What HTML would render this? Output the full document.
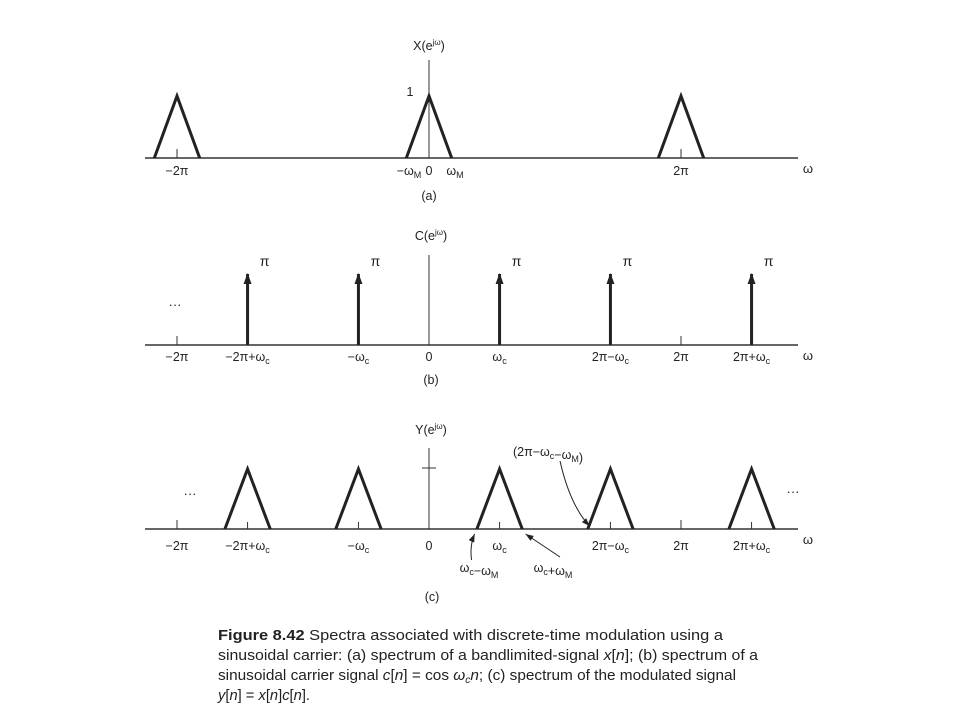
<!DOCTYPE html>
<html><head><meta charset="utf-8"><style>
html,body{margin:0;padding:0;background:#fff;}
svg{display:block;font-family:"Liberation Sans",sans-serif;}
</style></head><body>
<svg id="fig" width="960" height="720" viewBox="0 0 960 720" xmlns="http://www.w3.org/2000/svg">
<defs><marker id="ah" markerWidth="12" markerHeight="10" refX="10" refY="4" orient="auto" markerUnits="userSpaceOnUse"><path d="M0,0 L11,4 L0,8 Z" fill="#222"/></marker>
<marker id="sah" markerWidth="9" markerHeight="7" refX="8" refY="3" orient="auto" markerUnits="userSpaceOnUse"><path d="M0,0 L8,3 L0,6 Z" fill="#222"/></marker></defs>
<g id="pa"></g>
<g id="pb"></g>
<g id="pc"></g>
<g font-size="15" fill="#222">
<text x="218" y="640" textLength="505" lengthAdjust="spacingAndGlyphs"><tspan font-weight="bold">Figure 8.42</tspan>    Spectra associated with discrete-time modulation using a</text>
<text x="218" y="660" textLength="540" lengthAdjust="spacingAndGlyphs">sinusoidal carrier: (a) spectrum of a bandlimited-signal <tspan font-style="italic">x</tspan>[<tspan font-style="italic">n</tspan>]; (b) spectrum of a</text>
<text x="218" y="680" textLength="518" lengthAdjust="spacingAndGlyphs">sinusoidal carrier signal <tspan font-style="italic">c</tspan>[<tspan font-style="italic">n</tspan>] = cos <tspan font-style="italic">ω<tspan font-size="10" dy="3">c</tspan><tspan dy="-3">n</tspan></tspan>; (c) spectrum of the modulated signal</text>
<text x="218" y="700" textLength="92" lengthAdjust="spacingAndGlyphs"><tspan font-style="italic">y</tspan>[<tspan font-style="italic">n</tspan>] = <tspan font-style="italic">x</tspan>[<tspan font-style="italic">n</tspan>]<tspan font-style="italic">c</tspan>[<tspan font-style="italic">n</tspan>].</text>
</g>
</svg>
<script>
// data (centers in multiples of pi)
const aCenters = [-2, 0, 2];
const aHeights = [1, 1, 1];
const wM = 0.18;
const wc = 0.56;
const bImpulseCenters = [-2 + wc, -wc, wc, 2 - wc, 2 + wc];
const bImpulseHeights = [1, 1, 1, 1, 1];
const cCenters = [-2 + wc, -wc, wc, 2 - wc, 2 + wc];
const cHeights = [1, 1, 1, 1, 1];

const NS = "http://www.w3.org/2000/svg";
const x0 = 429, pxPerPi = 126;
function xs(w){ return x0 + w * pxPerPi; }
function el(parent, tag, attrs, text){
  const e = document.createElementNS(NS, tag);
  for (const k in attrs) e.setAttribute(k, attrs[k]);
  if (text !== undefined) e.textContent = text;
  parent.appendChild(e); return e;
}
function label(g, x, y, html, name, size){
  const t = el(g, "text", {x:x, y:y, "text-anchor":"middle", "font-size":size||12.5, fill:"#222"});
  t.innerHTML = html;
  
  
  return t;
}
function axis(g, y, yTop){
  const a = el(g, "line", {x1:145, y1:y, x2:798, y2:y, stroke:"#333", "stroke-width":1.5});
  
  
  const v = el(g, "line", {x1:x0, y1:yTop, x2:x0, y2:y, stroke:"#333", "stroke-width":1});
  
  
  label(g, 808, y + 15, "ω", "omega-label", 13);
}
function tri(g, c, h, yBase, amp, name){
  const xc = xs(c), hw = wM * pxPerPi;
  const p = el(g, "polyline", {points:`${xc-hw},${yBase} ${xc},${yBase-h*amp} ${xc+hw},${yBase}`, fill:"none", stroke:"#222", "stroke-width":3});
  
  
}
function tick(g, w, yBase, len){
  const t = el(g, "line", {x1:xs(w), y1:yBase, x2:xs(w), y2:yBase-len, stroke:"#333", "stroke-width":1});
  
  
}
const sub = s => `<tspan font-size="9" dy="3">${s}</tspan><tspan dy="-3"></tspan>`;

// Panel A
const A = document.getElementById("pa"), ya = 158;
axis(A, ya, 60);
aCenters.forEach((c,i)=>{ tri(A, c, aHeights[i], ya, 62, "triangle-a-"+i); if(c!==0) tick(A, c, ya, 9); });
label(A, x0, 50, "X(e<tspan font-size='8' dy='-5'>jω</tspan><tspan dy='5'>)</tspan>", "y-axis-title-a");
label(A, 410, 96, "1", "peak-value-label");
label(A, xs(-2), 175, "−2π", "tick-label-neg-2pi");
label(A, 409, 175, "−ω"+sub("M"), "tick-label-neg-wm");
label(A, x0, 175, "0", "tick-label-zero");
label(A, 455, 175, "ω"+sub("M"), "tick-label-wm");
label(A, xs(2), 175, "2π", "tick-label-2pi");
label(A, x0, 200, "(a)", "panel-a-label");

// Panel B
const B = document.getElementById("pb"), yb = 345;
axis(B, yb, 255);
bImpulseCenters.forEach((c,i)=>{
  const x = xs(c);
  const l = el(B, "line", {x1:x, y1:yb, x2:x, y2:yb-bImpulseHeights[i]*71, stroke:"#222", "stroke-width":3, "marker-end":"url(#ah)"});
  
  
  label(B, x+17, 266, "π", "impulse-value-"+i, 14);
});
tick(B, -2, yb, 9); tick(B, 2, yb, 9);
label(B, x0+2, 240, "C(e<tspan font-size='8' dy='-5'>jω</tspan><tspan dy='5'>)</tspan>", "y-axis-title-b");
label(B, 175, 309, "···", "ellipsis-b", 13);
const bl = [[-2,"−2π"],[-2+wc,"−2π+ω"+sub("c")],[-wc,"−ω"+sub("c")],[0,"0"],[wc,"ω"+sub("c")],[2-wc,"2π−ω"+sub("c")],[2,"2π"],[2+wc,"2π+ω"+sub("c")]];
bl.forEach((d,i)=>label(B, xs(d[0]), 361, d[1], "tick-label-b-"+i));
label(B, x0+2, 384, "(b)", "panel-b-label");

// Panel C
const C = document.getElementById("pc"), yc = 529;
axis(C, yc, 448);
const hm = el(C, "line", {x1:x0-7, y1:468, x2:x0+7, y2:468, stroke:"#333", "stroke-width":1});
 
cCenters.forEach((c,i)=>{ tri(C, c, cHeights[i], yc, 60, "triangle-c-"+i); tick(C, c, yc, 7); });
tick(C, -2, yc, 9); tick(C, 2, yc, 9);
label(C, x0+2, 434, "Y(e<tspan font-size='8' dy='-5'>jω</tspan><tspan dy='5'>)</tspan>", "y-axis-title-c");
label(C, 190, 498, "···", "ellipsis-c-left", 13);
label(C, 793, 496, "···", "ellipsis-c-right", 13);
bl.forEach((d,i)=>label(C, xs(d[0]), 550, d[1], "tick-label-c-"+i));
label(C, 479, 572, "ω"+sub("c")+"−ω"+sub("M"), "label-wc-minus-wm");
label(C, 553, 572, "ω"+sub("c")+"+ω"+sub("M"), "label-wc-plus-wm");
label(C, 548, 456, "(2π−ω"+sub("c")+"−ω"+sub("M")+")", "label-2pi-wc-wm");
label(C, 432, 601, "(c)", "panel-c-label");
function arrow(d, name){
  const p = el(C, "path", {d:d, fill:"none", stroke:"#222", "stroke-width":1, "marker-end":"url(#sah)"});
   
}
arrow(`M${xs(wc)-28},560 Q${xs(wc)-30},546 ${xs(wc)-25},534`, "arrow-wc-minus-wm");
arrow(`M560,557 L${xs(wc)+26},534`, "arrow-wc-plus-wm");
arrow(`M560,461 Q570,505 ${xs(2-wc)-21},526`, "arrow-2pi-wc-wm");
</script>
</body></html>
